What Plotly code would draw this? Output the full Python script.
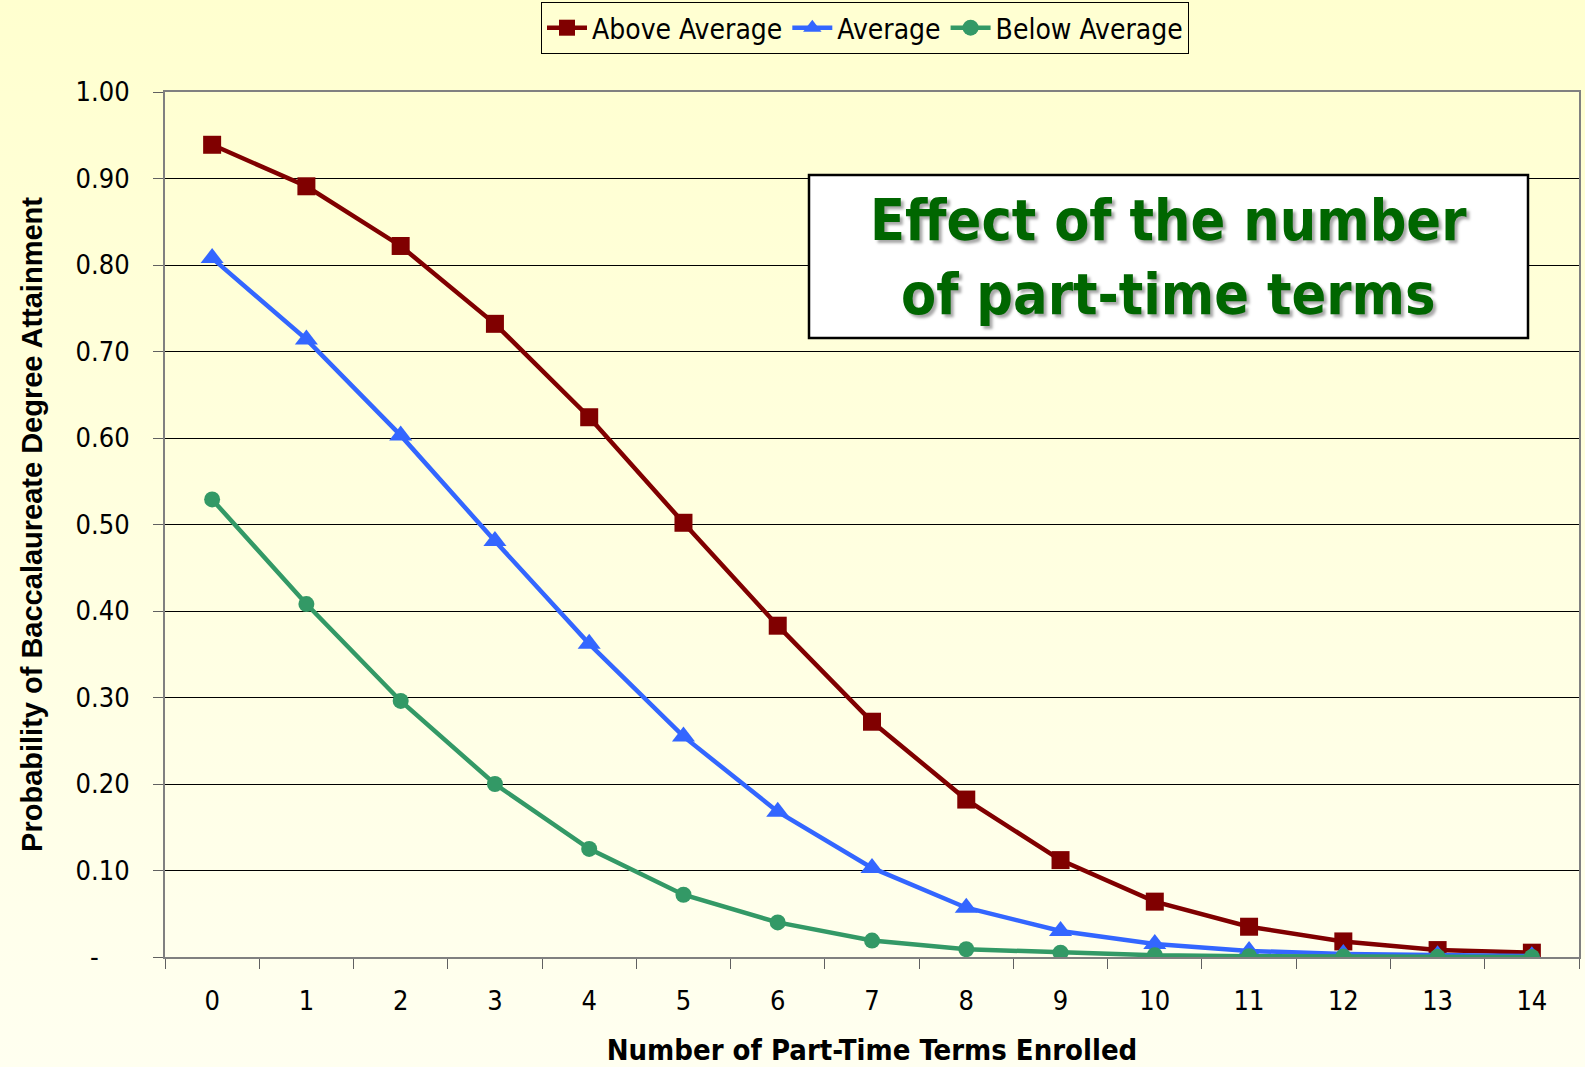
import plotly.graph_objects as go

# Probability of baccalaureate degree attainment by number of part-time terms
terms = [str(i) for i in range(15)]
above_average = [0.939, 0.891, 0.822, 0.732, 0.624, 0.502, 0.383, 0.272,
                 0.182, 0.112, 0.064, 0.035, 0.018, 0.008, 0.005]
average = [0.808, 0.714, 0.603, 0.481, 0.362, 0.255, 0.168, 0.103,
           0.057, 0.030, 0.015, 0.007, 0.0035, 0.002, 0.001]
below_average = [0.529, 0.408, 0.296, 0.200, 0.125, 0.072, 0.040, 0.019,
                 0.009, 0.005, 0.002, 0.001, 0.0005, 0.0002, 0.0001]
y_ticks = [0.0, 0.1, 0.2, 0.3, 0.4, 0.5, 0.6, 0.7, 0.8, 0.9, 1.0]
y_tick_labels = ["-\u00a0\u00a0\u00a0\u00a0", "0.10", "0.20", "0.30", "0.40", "0.50",
                 "0.60", "0.70", "0.80", "0.90", "1.00"]

W, H = 1585, 1067
ML, MR, MT, MB = 165, 6, 92, 110
PW, PH = W - ML - MR, H - MT - MB

FONT = "DejaVu Sans Condensed, DejaVu Sans, sans-serif"
BOLD_FONT = "Liberation Sans, Arial, sans-serif"


def px_x(px):
    return (px - ML) / PW


def px_y(py):
    return (H - MB - py) / PH


fig = go.Figure()

series = [
    ("Above Average", above_average, "#800000", "square", 18),
    ("Average", average, "#3366FF", "triangle-up", 20),
    ("Below Average", below_average, "#339966", "circle", 16),
]
for name, vals, color, symbol, size in series:
    fig.add_trace(go.Scatter(
        x=terms, y=vals, name=name, mode="lines+markers",
        line=dict(color=color, width=4.5),
        marker=dict(symbol=symbol, size=size, color=color),
    ))

# soft vertical gradient behind the whole figure
grad_svg = (
    "<svg xmlns='http://www.w3.org/2000/svg' width='10' height='100' preserveAspectRatio='none'>"
    "<defs><linearGradient id='g' x1='0' y1='0' x2='0' y2='1'>"
    "<stop offset='0' stop-color='%23FFFFCF'/><stop offset='1' stop-color='%23FFFFF0'/>"
    "</linearGradient></defs><rect width='10' height='100' fill='url(%23g)'/></svg>"
)
fig.add_layout_image(dict(
    source="data:image/svg+xml;utf8," + grad_svg,
    xref="paper", yref="paper",
    x=px_x(0), y=px_y(0), sizex=W / PW, sizey=H / PH,
    xanchor="left", yanchor="top", sizing="stretch", layer="below",
))

# title box
fig.add_shape(type="rect", xref="paper", yref="paper",
              x0=px_x(809), x1=px_x(1528), y0=px_y(338), y1=px_y(175),
              fillcolor="white", line=dict(color="black", width=2.5), layer="above")
fig.add_annotation(
    xref="paper", yref="paper", x=px_x(1168.5), y=px_y(257),
    xanchor="center", yanchor="middle", showarrow=False,
    text="<b>Effect of the number<br>of part-time terms</b>",
    font=dict(family=FONT, size=57, color="#006600",
              shadow="3px 3px 3px rgba(0,0,0,0.35)"),
)

fig.update_layout(
    width=W, height=H,
    margin=dict(l=ML, r=MR, t=MT, b=MB, autoexpand=False),
    paper_bgcolor="rgba(0,0,0,0)",
    plot_bgcolor="rgba(0,0,0,0)",
    font=dict(family=FONT, size=27, color="black"),
    showlegend=True,
    legend=dict(
        orientation="h", xref="container", x=865 / W, xanchor="center",
        yref="container", y=1 - 2 / H, yanchor="top",
        bgcolor="#FFFFD2", bordercolor="black", borderwidth=1,
        font=dict(family=FONT, size=28),
        itemwidth=40, tracegroupgap=0,
    ),
    xaxis=dict(
        type="category", range=[-0.5, 14.5],
        tickson="boundaries", ticks="outside", ticklen=10, tickcolor="#606060",
        showline=True, linecolor="#808080", linewidth=2, mirror=True,
        showgrid=False, zeroline=False, ticklabelstandoff=19,
        title=dict(text="<b>Number of Part-Time Terms Enrolled</b>",
                   font=dict(family=FONT, size=29), standoff=24),
    ),
    yaxis=dict(
        range=[0, 1], tickvals=y_ticks, ticktext=y_tick_labels,
        ticks="outside", ticklen=10, tickcolor="#606060",
        showline=True, linecolor="#808080", linewidth=2, mirror=True,
        showgrid=True, gridcolor="black", gridwidth=1, zeroline=False,
        ticklabelstandoff=18,
        title=dict(text="<b>Probability of Baccalaureate Degree Attainment</b>",
                   font=dict(family=BOLD_FONT, size=29), standoff=24),
    ),
)

fig.write_html("out.html")
